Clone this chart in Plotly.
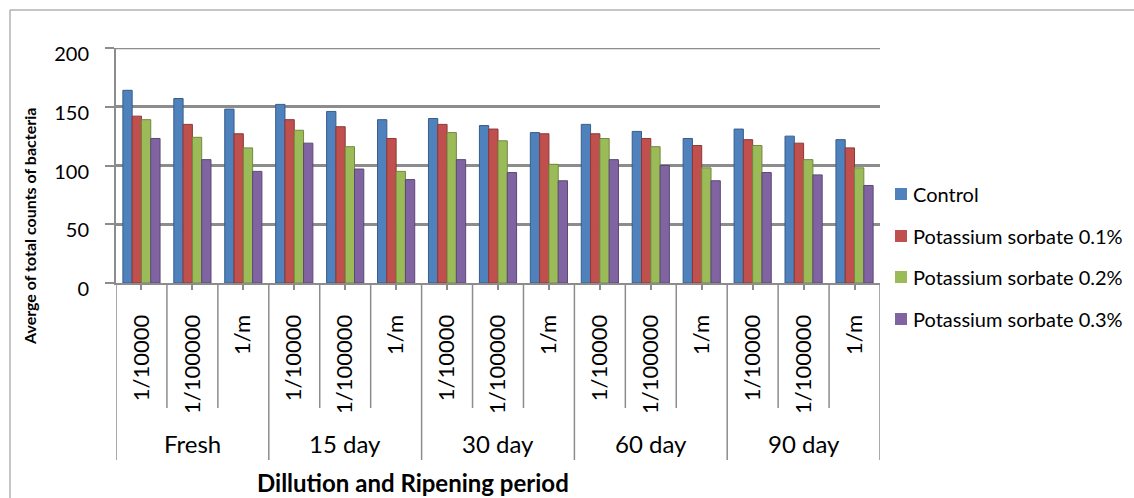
import plotly.graph_objects as go

groups = ["Fresh", "15 day", "30 day", "60 day", "90 day"]
dilutions = ["1/10000", "1/100000", "1/m"]
series_names = ["Control", "Potassium sorbate 0.1%", "Potassium sorbate 0.2%", "Potassium sorbate 0.3%"]

control = [164, 157, 148, 152, 146, 139, 140, 134, 128, 135, 129, 123, 131, 125, 122]
ps_01 = [142, 135, 127, 139, 133, 123, 135, 131, 127, 127, 123, 117, 122, 119, 115]
ps_02 = [139, 124, 115, 130, 116, 95, 128, 121, 101, 123, 116, 98, 117, 105, 98]
ps_03 = [123, 105, 95, 119, 97, 88, 105, 94, 87, 105, 100, 87, 94, 92, 83]

colors = ["#4F81BD", "#C0504D", "#9BBB59", "#8064A2"]
edges = ["#385D8A", "#8C3836", "#71893F", "#5C4776"]
values = [control, ps_01, ps_02, ps_03]

n = len(groups) * len(dilutions)
xs = list(range(n))
tick_text = [d for g in groups for d in dilutions]

fig = go.Figure()
for name, vals, c, e in zip(series_names, values, colors, edges):
    fig.add_trace(go.Bar(x=xs, y=vals, name=name, showlegend=False,
                         marker=dict(color=c, line=dict(color=e, width=1))))

grid = "#8c8c8c"
L, R, T, B = 116, 880, 48, 283
W, H = 1134, 498
pw, ph = R - L, B - T

def px_x(p):
    return (p - L) / pw

def px_y(p):
    return (B - p) / ph

shapes = []
for k in range(n + 1):
    xb = k - 0.5
    is_group = (k % 3 == 0)
    shapes.append(dict(type="line", xref="x", yref="paper", x0=xb, x1=xb,
                       y0=0, y1=px_y(460 if is_group else 408),
                       line=dict(color=grid, width=1.5)))
# top gridline at 200
shapes.append(dict(type="line", xref="paper", yref="y", x0=0, x1=1, y0=200, y1=200,
                   line=dict(color=grid, width=2.5)))
# outer chart border
shapes.append(dict(type="rect", xref="paper", yref="paper",
                   x0=px_x(10), x1=px_x(1150), y0=px_y(520), y1=px_y(10),
                   line=dict(color="#8c8c8c", width=1), fillcolor="rgba(0,0,0,0)"))

annotations = []
# legend drawn as real text + swatches
legend_y = [194, 236, 277, 319]
for name, c, ly in zip(series_names, colors, legend_y):
    shapes.append(dict(type="rect", xref="paper", yref="paper",
                       x0=px_x(895), x1=px_x(907), y0=px_y(ly + 6), y1=px_y(ly - 6),
                       line=dict(width=0), fillcolor=c))
    annotations.append(dict(x=px_x(911), y=px_y(ly), xref="paper", yref="paper",
                            text=name, showarrow=False, font=dict(size=20, color="#000"),
                            xanchor="left", yanchor="middle"))

for i, g in enumerate(groups):
    annotations.append(dict(x=i * 3 + 1, y=px_y(443), xref="x", yref="paper",
                            text=g, showarrow=False, font=dict(size=24, color="#000"),
                            xanchor="center", yanchor="middle"))
annotations.append(dict(x=px_x(413), y=px_y(482), xref="paper", yref="paper",
                        text="<b>Dillution and Ripening period</b>", showarrow=False,
                        font=dict(size=24, color="#000"), xanchor="center", yanchor="middle"))
annotations.append(dict(x=px_x(29), y=px_y(227), xref="paper", yref="paper",
                        text="<b>Averge of total counts of bacteria</b>", showarrow=False,
                        textangle=-90, font=dict(size=16, color="#000"),
                        xanchor="center", yanchor="middle"))

fig.update_layout(
    width=W, height=H,
    margin=dict(l=L, r=W - R, t=T, b=H - B, pad=0, autoexpand=False),
    paper_bgcolor="white", plot_bgcolor="white",
    font=dict(family="Lato, Open Sans, sans-serif", color="#000", size=20),
    barmode="group", bargap=0.27, bargroupgap=0,
    showlegend=False,
    xaxis=dict(range=[-0.5, n - 0.5], tickmode="array", tickvals=xs, ticktext=tick_text,
               tickangle=-90, ticks="outside", ticklen=5, tickcolor=grid, tickwidth=1.5,
               showline=True, linecolor=grid, linewidth=2, showgrid=False, automargin=False,
               tickfont=dict(size=22), ticklabelstandoff=16, fixedrange=True),
    yaxis=dict(range=[0, 200], dtick=50, tick0=0, showgrid=True, gridcolor=grid, gridwidth=2.5,
               showline=True, linecolor=grid, linewidth=2, zeroline=False, automargin=False,
               ticks="outside", ticklen=9, tickcolor=grid, tickwidth=1.5,
               tickfont=dict(size=20), ticklabelstandoff=12, ticklabelshift=6,
               fixedrange=True),
    shapes=shapes, annotations=annotations,
)

fig.write_html("out.html", config={"displayModeBar": False},
               post_script="document.body.style.margin='0px';document.body.style.overflow='hidden';")
